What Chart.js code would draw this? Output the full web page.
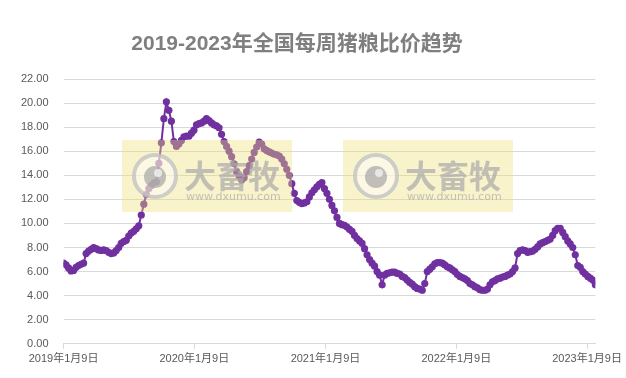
<!DOCTYPE html>
<html>
<head>
<meta charset="utf-8">
<script src="https://cdn.jsdelivr.net/npm/chart.js@4.4.0/dist/chart.umd.min.js"></script>
<style>
  html, body { margin: 0; padding: 0; background: #fff; }
</style>
</head>
<body>
<canvas id="chart" width="626" height="378"></canvas>
<script>
// 标题与坐标轴
const chartTitle = "2019-2023年全国每周猪粮比价趋势";
const tickLabels = ["2019年1月9日", "2020年1月9日", "2021年1月9日", "2022年1月9日", "2023年1月9日"];
const tickDays = [0, 365, 731, 1096, 1461];   // 距 2019-01-09 的天数
const weekStep = 7;

// 每周猪粮比价（从 2019-01-09 起，每周一个值）
const ratio2019 = [6.70, 6.55, 6.30, 6.05, 6.10, 6.35, 6.50, 6.60, 6.70, 7.50,
  7.70, 7.85, 8.00, 7.90, 7.80, 7.75, 7.80, 7.75, 7.60, 7.50,
  7.55, 7.75, 8.00, 8.35, 8.50, 8.60, 8.95, 9.20, 9.35, 9.55,
  9.80, 10.70, 11.60, 12.40, 12.90, 13.15, 13.35, 13.45, 15.00, 16.70,
  18.70, 20.10, 19.40, 18.50, 16.80, 16.40, 16.60, 16.90, 17.20, 17.25,
  17.25, 17.50];
const ratio2020 = [17.75, 18.20, 18.30, 18.35, 18.50, 18.70, 18.55, 18.35, 18.20, 18.10,
  17.95, 17.40, 16.80, 16.40, 16.00, 15.55, 14.95, 14.30, 13.95, 13.60,
  13.80, 14.30, 14.80, 15.35, 15.90, 16.35, 16.75, 16.60, 16.20, 16.05,
  15.95, 15.85, 15.75, 15.70, 15.60, 15.35, 14.95, 14.50, 14.00, 13.30,
  12.50, 11.90, 11.75, 11.65, 11.70, 11.80, 12.20, 12.55, 12.80, 13.05,
  13.25, 13.40];
const ratio2021 = [12.90, 12.50, 12.00, 11.50, 11.05, 10.50, 10.00, 9.90, 9.85, 9.70,
  9.50, 9.35, 9.00, 8.75, 8.55, 8.35, 7.90, 7.40, 7.00, 6.70,
  6.45, 6.00, 5.70, 4.90, 5.70, 5.85, 5.90, 5.95, 5.95, 5.85,
  5.80, 5.60, 5.50, 5.30, 5.10, 4.95, 4.75, 4.60, 4.55, 4.45,
  5.00, 6.00, 6.20, 6.40, 6.65, 6.75, 6.75, 6.70, 6.55, 6.40,
  6.30, 6.15];
const ratio2022 = [6.00, 5.75, 5.60, 5.50, 5.40, 5.25, 5.00, 4.90, 4.75, 4.65,
  4.50, 4.45, 4.45, 4.55, 4.90, 5.15, 5.25, 5.40, 5.45, 5.55,
  5.60, 5.70, 5.80, 6.00, 6.30, 7.50, 7.75, 7.80, 7.75, 7.60,
  7.65, 7.70, 7.85, 8.05, 8.30, 8.40, 8.50, 8.60, 8.70, 9.00,
  9.40, 9.60, 9.60, 9.25, 8.90, 8.55, 8.30, 8.00, 7.40, 6.50,
  6.35, 6.00];
const ratio2023 = [5.80, 5.60, 5.45, 5.30, 4.90];

const weeklyRatio = [...ratio2019, ...ratio2020, ...ratio2021, ...ratio2022, ...ratio2023];
const points = weeklyRatio.map((v, i) => ({ x: i * weekStep, y: v }));
const lastDay = (weeklyRatio.length - 1) * weekStep;

const baseFont = "'Liberation Sans', 'Noto Sans CJK SC', sans-serif";

// 标题（位置略偏左，和原图一致）
const titlePlugin = {
    id: 'chartTitle',
    afterDraw(chart) {
        const ctx = chart.ctx;
        ctx.save();
        ctx.font = "bold 21px " + baseFont;
        ctx.fillStyle = '#7f7f7f';
        ctx.textAlign = 'center';
        ctx.textBaseline = 'middle';
        ctx.fillText(chartTitle, 297, 44);
        ctx.restore();
    }
};

// 水印
const watermarkBoxes = [{ x: 122, y: 140 }, { x: 343, y: 140 }];
const watermarkPlugin = {
    id: 'watermark',
    afterDatasetsDraw(chart) {
        const ctx = chart.ctx;
        watermarkBoxes.forEach(b => {
            ctx.save();
            ctx.fillStyle = 'rgba(238, 224, 120, 0.38)';
            ctx.fillRect(b.x, b.y, 170, 72);

            // 圆形标志
            const cx = b.x + 33, cy = b.y + 36;
            ctx.beginPath();
            ctx.arc(cx, cy, 21, 0, Math.PI * 2);
            ctx.fillStyle = 'rgba(255, 255, 255, 0.45)';
            ctx.fill();
            ctx.lineWidth = 4;
            ctx.strokeStyle = 'rgba(195, 195, 195, 0.8)';
            ctx.stroke();
            ctx.beginPath();
            ctx.arc(cx, cy + 1, 11, 0, Math.PI * 2);
            ctx.fillStyle = 'rgba(160, 160, 160, 0.65)';
            ctx.fill();
            ctx.beginPath();
            ctx.arc(cx + 3, cy - 3, 4, 0, Math.PI * 2);
            ctx.fillStyle = 'rgba(235, 235, 235, 0.9)';
            ctx.fill();

            // 文字
            ctx.fillStyle = 'rgba(170, 170, 170, 0.7)';
            ctx.textBaseline = 'alphabetic';
            ctx.textAlign = 'left';
            ctx.font = "bold 32px 'Noto Sans CJK SC', sans-serif";
            ctx.fillText('大畜牧', b.x + 62, b.y + 48);
            ctx.font = "11px 'DejaVu Sans', sans-serif";
            ctx.fillText('www.dxumu.com', b.x + 64, b.y + 60);
            ctx.restore();
        });
    }
};

new Chart(document.getElementById('chart'), {
    type: 'line',
    data: {
        datasets: [{
            data: points,
            borderColor: '#7030a0',
            backgroundColor: '#7030a0',
            borderWidth: 2,
            pointRadius: 3.6,
            pointHoverRadius: 3.6,
            pointBorderWidth: 0,
            tension: 0
        }]
    },
    options: {
        responsive: false,
        animation: false,
        layout: { padding: { left: 6, right: 0, top: 79, bottom: 8 } },
        plugins: {
            legend: { display: false },
            tooltip: { enabled: false }
        },
        scales: {
            x: {
                type: 'linear',
                min: 0,
                max: lastDay,
                afterBuildTicks: axis => {
                    axis.ticks = tickDays.map(d => ({ value: d }));
                },
                grid: { drawOnChartArea: false, drawTicks: true, tickLength: 5, color: '#d9d9d9' },
                border: { color: '#d9d9d9' },
                ticks: {
                    autoSkip: false,
                    maxRotation: 0,
                    padding: 4,
                    color: '#595959',
                    font: { size: 11, family: baseFont },
                    callback: (value, index) => tickLabels[index]
                }
            },
            y: {
                min: 0,
                max: 22,
                grid: { color: '#d9d9d9', drawTicks: false },
                border: { display: false },
                ticks: {
                    stepSize: 2,
                    padding: 15,
                    color: '#595959',
                    font: { size: 11, family: baseFont },
                    callback: v => v.toFixed(2)
                }
            }
        }
    },
    plugins: [titlePlugin, watermarkPlugin]
});
</script>
</body>
</html>
